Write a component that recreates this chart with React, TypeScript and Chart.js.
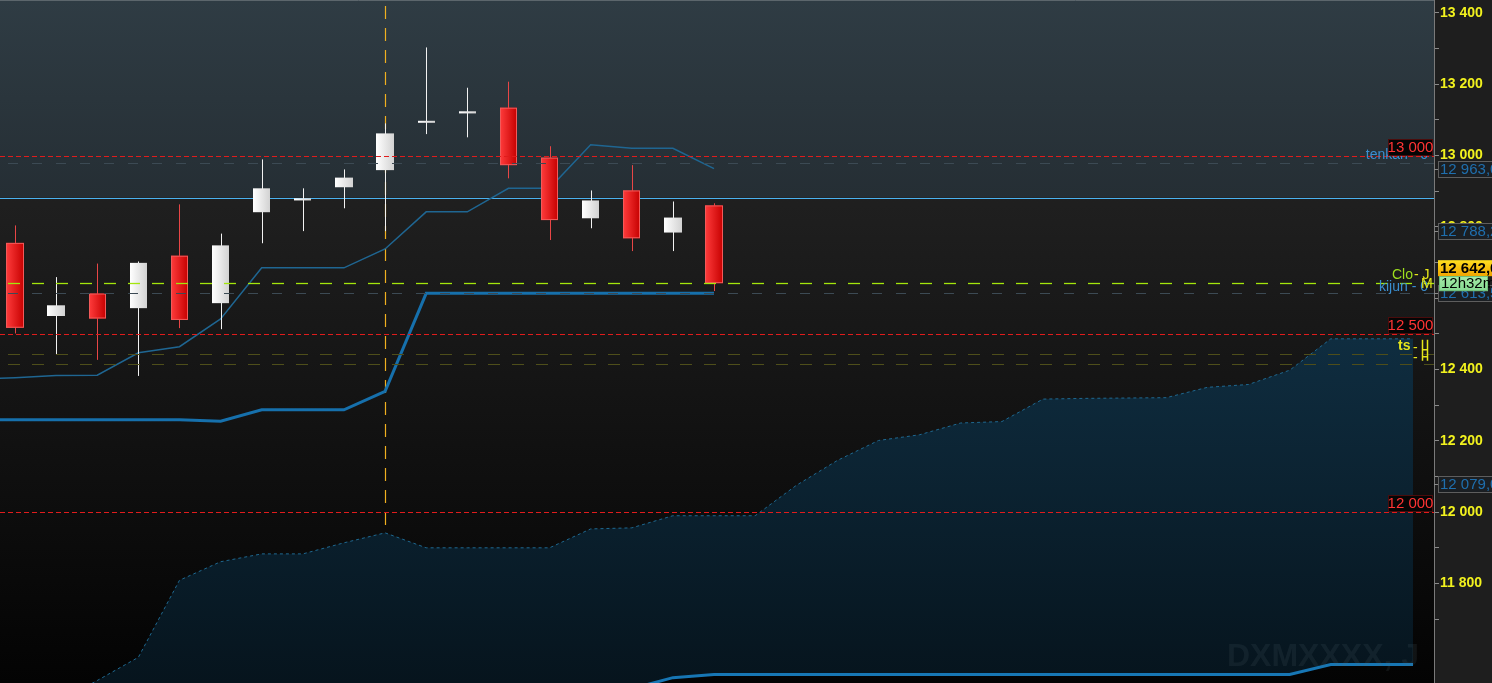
import React, { useEffect, useRef } from "react";
import { Chart, registerables } from "chart.js";

Chart.register(...registerables);

// ---------- data ----------
const candleIdx = [0, 1, 2, 3, 4, 5, 6, 7, 8, 9, 10, 11, 12, 13, 14, 15, 16, 17];
const opens = [12755, 12550, 12613, 12572, 12719, 12586, 12841, 12874, 12911, 12959, 13094, 13118, 13134, 12994, 12824, 12902, 12784, 12860];
const highs = [12804, 12659, 12697, 12703, 12863, 12781, 12989, 12908, 12961, 13090, 13303, 13190, 13207, 13026, 12902, 12973, 12871, 12866];
const lows = [12501, 12441, 12427, 12382, 12516, 12513, 12754, 12788, 12852, 12788, 13060, 13051, 12936, 12763, 12796, 12732, 12732, 12620];
const closes = [12517, 12580, 12543, 12699, 12539, 12748, 12908, 12880, 12938, 13062, 13095, 13124, 12973, 12819, 12874, 12768, 12826, 12642];

const lineIdx = [-1, 0, 1, 2, 3, 4, 5, 6, 7, 8, 9, 10, 11, 12, 13, 14, 15, 16, 17];
const tenkan = [12372, 12377, 12383, 12384, 12447, 12464, 12542, 12685, 12685, 12685, 12738, 12842, 12842, 12908, 12908, 13030, 13020, 13020, 12963];
const kijun = [12259, 12259, 12259, 12259, 12259, 12259, 12255, 12287, 12287, 12287, 12339, 12613.5, 12613.5, 12613.5, 12613.5, 12613.5, 12613.5, 12613.5, 12613.5];

const cloudIdx = [-1, 0, 1, 2, 3, 4, 5, 6, 7, 8, 9, 10, 11, 12, 13, 14, 15, 16, 17, 18, 19, 20, 21, 22, 23, 24, 25, 26, 27, 28, 29, 30, 31, 32, 33, 34];
const senkouA = [11400, 11430, 11465, 11528, 11593, 11809, 11861, 11883, 11883, 11914, 11942, 11900, 11900, 11900, 11900, 11953, 11956, 11990, 11990, 11990, 12075, 12145, 12201, 12217, 12250, 12254, 12317, 12319, 12320, 12321, 12350, 12358, 12398, 12486, 12486, 12486];
const senkouB = [11400, 11400, 11400, 11400, 11400, 11420, 11420, 11420, 11440, 11440, 11460, 11470, 11470, 11470, 11480, 11490, 11505, 11536, 11545, 11545, 11545, 11545, 11545, 11545, 11545, 11545, 11545, 11545, 11545, 11545, 11545, 11545, 11545, 11573, 11573, 11573];

const yTickValues = [11700, 11800, 11900, 12000, 12100, 12200, 12300, 12400, 12500, 12600, 12700, 12800, 12900, 13000, 13100, 13200, 13300, 13400];
const yTickLabels = ["", "11 800", "", "12 000", "", "12 200", "", "12 400", "", "12 600", "", "12 800", "", "13 000", "", "13 200", "", "13 400"];

const redLevelValues = [13000, 12500, 12000];
const redLevelLabels = ["13 000", "12 500", "12 000"];
const lightBlueLevel = 12882;
const greyLevels = [12980, 12613.5];
const oliveLevels = [12444, 12416];
const closeLevel = 12642;
const markerIndex = 9;

const axisBoxValues = [12963, 12788.2, 12613.5, 12079];
const axisBoxLabels = ["12 963,0", "12 788,2", "12 613,5", "12 079,0"];
const closeLabel = "12 642,0";
const timerLabel = "12h32m";
const watermark = "DXMXXXX, J";

const FONT = '"Liberation Sans", Arial, sans-serif';

// ---------- plugin ----------
const ichimokuPlugin = {
  id: "ichimokuDecor",
  beforeDraw(chart: any) {
    const { ctx, chartArea: a, width, height } = chart;
    const ys = chart.scales.y;
    ctx.save();
    ctx.fillStyle = "#1e1e1e";
    ctx.fillRect(0, 0, width, height);
    const g = ctx.createLinearGradient(0, a.top, 0, a.bottom);
    g.addColorStop(0, "#262626");
    g.addColorStop(0.3, "#1f1f1f");
    g.addColorStop(1, "#030303");
    ctx.fillStyle = g;
    ctx.fillRect(a.left, a.top, a.right - a.left, a.bottom - a.top);
    const yb = ys.getPixelForValue(lightBlueLevel);
    const g2 = ctx.createLinearGradient(0, a.top, 0, yb);
    g2.addColorStop(0, "#2f3c44");
    g2.addColorStop(1, "#252e34");
    ctx.fillStyle = g2;
    ctx.fillRect(a.left, a.top, a.right - a.left, yb - a.top);
    ctx.strokeStyle = "#5c666c";
    ctx.lineWidth = 1;
    ctx.beginPath();
    ctx.moveTo(a.left, a.top + 0.5);
    ctx.lineTo(a.right, a.top + 0.5);
    ctx.stroke();
    ctx.restore();
  },
  beforeDatasetsDraw(chart: any) {
    const { ctx, chartArea: a } = chart;
    const xs = chart.scales.x;
    const ys = chart.scales.y;
    ctx.save();
    // light blue line
    const yb = Math.round(ys.getPixelForValue(lightBlueLevel)) + 0.5;
    ctx.strokeStyle = "#4ab2f0";
    ctx.lineWidth = 1.2;
    ctx.beginPath();
    ctx.moveTo(a.left, yb);
    ctx.lineTo(a.right, yb);
    ctx.stroke();
    // vertical marker
    const xv = Math.round(xs.getPixelForValue(markerIndex)) + 0.5;
    ctx.strokeStyle = "#f0b020";
    ctx.lineWidth = 1.2;
    ctx.setLineDash([13, 9]);
    ctx.beginPath();
    ctx.moveTo(xv, a.top + 6);
    ctx.lineTo(xv, a.bottom);
    ctx.stroke();
    ctx.restore();
  },
  afterDatasetsDraw(chart: any) {
    const { ctx, chartArea: a } = chart;
    const xs = chart.scales.x;
    const ys = chart.scales.y;
    ctx.save();
    ctx.beginPath();
    ctx.rect(a.left, a.top, a.right - a.left, a.bottom - a.top);
    ctx.clip();
    // candles
    candleIdx.forEach((i, k) => {
      const o = opens[k], c = closes[k], h = highs[k], l = lows[k];
      const up = c >= o;
      const xc = Math.round(xs.getPixelForValue(i)) + 0.5;
      const xl = Math.round(xs.getPixelForValue(i - 0.21));
      const xr = Math.round(xs.getPixelForValue(i + 0.21));
      const yO = ys.getPixelForValue(o);
      const yC = ys.getPixelForValue(c);
      const yH = ys.getPixelForValue(h);
      const yL = ys.getPixelForValue(l);
      ctx.strokeStyle = up ? "#f2f2f2" : "#e84646";
      ctx.lineWidth = 1;
      ctx.beginPath();
      ctx.moveTo(xc, yH);
      ctx.lineTo(xc, yL);
      ctx.stroke();
      let top = Math.min(yO, yC);
      let bh = Math.abs(yO - yC);
      if (bh < 2) { top = (yO + yC) / 2 - 1; bh = 2; }
      const gr = ctx.createLinearGradient(xl, 0, xr, 0);
      if (up) {
        gr.addColorStop(0, "#ffffff");
        gr.addColorStop(1, "#d2d2d2");
      } else {
        gr.addColorStop(0, "#ff3c3c");
        gr.addColorStop(1, "#c60000");
      }
      ctx.fillStyle = gr;
      ctx.fillRect(xl, top, xr - xl, bh);
      if (!up && bh > 3) {
        ctx.strokeStyle = "#f25a5a";
        ctx.strokeRect(xl + 0.5, top + 0.5, xr - xl - 1, bh - 1);
      }
    });
    // dashed levels
    const hline = (v: number, color: string, dash: number[], off = 0, w = 1) => {
      const y = Math.round(ys.getPixelForValue(v)) + 0.5;
      ctx.strokeStyle = color;
      ctx.lineWidth = w;
      ctx.setLineDash(dash);
      ctx.lineDashOffset = off;
      ctx.beginPath();
      ctx.moveTo(a.left, y);
      ctx.lineTo(a.right, y);
      ctx.stroke();
    };
    greyLevels.forEach((v) => hline(v, "#3c4a54", [10, 14], -8));
    oliveLevels.forEach((v) => hline(v, "#4e4e1a", [12, 12], -8));
    hline(closeLevel, "#a4e60c", [12, 12], -8, 1.3);
    redLevelValues.forEach((v) => hline(v, "#e01c1c", [5, 3]));
    ctx.setLineDash([]);
    ctx.restore();
  },
  afterDraw(chart: any) {
    const { ctx, chartArea: a } = chart;
    const ys = chart.scales.y;
    ctx.save();
    ctx.textBaseline = "middle";
    // watermark
    ctx.font = `bold 32px ${FONT}`;
    ctx.fillStyle = "rgba(90,105,115,0.15)";
    ctx.textAlign = "left";
    ctx.fillText(watermark, 1227, 657);

    ctx.font = `14px ${FONT}`;
    // tenkan label
    const yT = ys.getPixelForValue(13000);
    ctx.textAlign = "right";
    ctx.fillStyle = "#3a8ed0";
    ctx.fillText("tenkan - 0", 1428, yT);
    // red level boxes
    redLevelValues.forEach((v, k) => {
      const y = Math.round(ys.getPixelForValue(v));
      ctx.fillStyle = "#050505";
      ctx.fillRect(1388, y - 17, 45, 17);
      ctx.strokeStyle = "#4a0c0c";
      ctx.lineWidth = 1;
      ctx.strokeRect(1388.5, y - 16.5, 44, 16);
      ctx.fillStyle = "#ff3434";
      ctx.textAlign = "center";
      ctx.font = `15px ${FONT}`;
      ctx.fillText(redLevelLabels[k], 1410.5, y - 8);
    });
    ctx.font = `14px ${FONT}`;
    // close / kijun labels
    const yClose = ys.getPixelForValue(closeLevel);
    ctx.textAlign = "left";
    ctx.fillStyle = "#9ede1e";
    ctx.fillText("Clo", 1392, yClose - 8);
    ctx.fillStyle = "#e6e61a";
    ctx.fillText("- J", 1414, yClose - 8);
    const yK = ys.getPixelForValue(12613.5);
    ctx.textAlign = "right";
    ctx.fillStyle = "#3a8ed0";
    ctx.fillText("kijun - 0", 1428, yK - 6);
    ctx.textAlign = "left";
    ctx.fillStyle = "#e6e61a";
    ctx.fillText("M", 1421, yClose + 1);
    // ts label
    const yTs = ys.getPixelForValue(oliveLevels[0]);
    ctx.font = `bold 14px ${FONT}`;
    ctx.fillStyle = "#e6e61a";
    ctx.fillText("ts", 1398, yTs - 8);
    ctx.font = `14px ${FONT}`;
    ctx.fillText("-", 1413, yTs - 6);
    ctx.fillText("-", 1413, yTs + 4);
    ctx.strokeStyle = "#e6e61a";
    ctx.lineWidth = 1.5;
    ctx.beginPath();
    ctx.moveTo(1422.5, yTs - 14); ctx.lineTo(1422.5, yTs + 7);
    ctx.moveTo(1427.5, yTs - 14); ctx.lineTo(1427.5, yTs + 7);
    ctx.moveTo(1422, yTs - 4); ctx.lineTo(1428, yTs - 4);
    ctx.moveTo(1422, yTs + 3); ctx.lineTo(1428, yTs + 3);
    ctx.stroke();

    // axis boxes
    const ax = a.right + 4;
    ctx.textAlign = "left";
    ctx.lineWidth = 1;
    axisBoxValues.forEach((v, k) => {
      const y = ys.getPixelForValue(v);
      ctx.strokeStyle = "#8a8a8a";
      ctx.beginPath();
      ctx.moveTo(a.right, Math.round(y) + 0.5);
      ctx.lineTo(ax, Math.round(y) + 0.5);
      ctx.stroke();
      ctx.fillStyle = "#1b1f23";
      ctx.fillRect(ax, y - 8, 60, 16);
      ctx.strokeStyle = "#5e5e5e";
      ctx.strokeRect(ax + 0.5, Math.round(y - 8) + 0.5, 60, 16);
      ctx.fillStyle = "#1f6fae";
      ctx.font = `15px ${FONT}`;
      ctx.fillText(axisBoxLabels[k], ax + 2, y + 1);
    });
    // close box
    const yc = ys.getPixelForValue(closeLevel);
    const gy = ctx.createLinearGradient(0, yc - 23, 0, yc - 7);
    gy.addColorStop(0, "#ffe020");
    gy.addColorStop(1, "#f0a400");
    ctx.fillStyle = gy;
    ctx.fillRect(ax, yc - 23, 60, 16);
    ctx.fillStyle = "#000";
    ctx.font = `bold 15px ${FONT}`;
    ctx.fillText(closeLabel, ax + 2, yc - 14);
    // timer box
    const gg = ctx.createLinearGradient(0, yc - 7, 0, yc + 8);
    gg.addColorStop(0, "#a6eca8");
    gg.addColorStop(1, "#84d890");
    ctx.fillStyle = gg;
    ctx.fillRect(ax + 1, yc - 7, 49, 15);
    ctx.strokeStyle = "#6fbf7a";
    ctx.strokeRect(ax + 1.5, Math.round(yc - 7) + 0.5, 48, 14);
    ctx.fillStyle = "#000";
    ctx.font = `15px ${FONT}`;
    ctx.fillText(timerLabel, ax + 3, yc + 1);
    ctx.restore();
  },
};

export default function App() {
  const ref = useRef<HTMLCanvasElement | null>(null);
  useEffect(() => {
    document.body.style.margin = "0";
    const canvas = ref.current;
    if (!canvas) return;
    const cloudFill = (context: any) => {
      const { chart } = context;
      const { ctx, chartArea } = chart;
      if (!chartArea) return "rgba(12,40,58,0.9)";
      const ys = chart.scales.y;
      const g = ctx.createLinearGradient(0, ys.getPixelForValue(12486), 0, chartArea.bottom);
      g.addColorStop(0, "#0f2d40");
      g.addColorStop(1, "#06141d");
      return g;
    };
    const chart = new Chart(canvas, {
      type: "line",
      data: {
        datasets: [
          {
            label: "senkouA",
            order: 4,
            data: cloudIdx.map((x, k) => ({ x, y: senkouA[k] })),
            borderColor: "#1e6890",
            borderWidth: 1,
            borderDash: [3, 3],
            backgroundColor: cloudFill,
            fill: "+1",
            pointRadius: 0,
            tension: 0,
          },
          {
            label: "senkouB",
            order: 3,
            data: cloudIdx.map((x, k) => ({ x, y: senkouB[k] })),
            borderColor: "#1776b4",
            borderWidth: 3,
            fill: false,
            pointRadius: 0,
            tension: 0,
          },
          {
            label: "kijun",
            order: 2,
            data: lineIdx.map((x, k) => ({ x, y: kijun[k] })),
            borderColor: "#1670ac",
            borderWidth: 3,
            fill: false,
            pointRadius: 0,
            tension: 0,
          },
          {
            label: "tenkan",
            order: 1,
            data: lineIdx.map((x, k) => ({ x, y: tenkan[k] })),
            borderColor: "#1f6692",
            borderWidth: 1.5,
            fill: false,
            pointRadius: 0,
            tension: 0,
          },
        ],
      },
      options: {
        animation: false,
        responsive: false,
        maintainAspectRatio: false,
        layout: { padding: 0 },
        plugins: { legend: { display: false }, tooltip: { enabled: false } },
        scales: {
          x: { type: "linear", min: -0.365, max: 34.51, display: false },
          y: {
            position: "right",
            min: 11521,
            max: 13436,
            afterFit: (s: any) => { s.width = 58; s.paddingTop = 0; s.paddingBottom = 0; },
            afterBuildTicks: (s: any) => { s.ticks = yTickValues.map((v) => ({ value: v })); },
            ticks: {
              autoSkip: false,
              padding: 1,
              color: "#f2f21e",
              font: { family: FONT, size: 14, weight: "bold" },
              callback: (_v: any, idx: number) => yTickLabels[idx],
            },
            grid: { drawOnChartArea: false, color: "#8a8a8a", tickLength: 5 },
            border: { color: "#7a7a7a" },
          },
        },
      },
      plugins: [ichimokuPlugin],
    } as any);
    return () => chart.destroy();
  }, []);
  return (
    <div style={{ position: "fixed", left: 0, top: 0, width: 1492, height: 683, background: "#1e1e1e" }}>
      <canvas ref={ref} width={1492} height={683} style={{ width: 1492, height: 683, display: "block" }} />
    </div>
  );
}
